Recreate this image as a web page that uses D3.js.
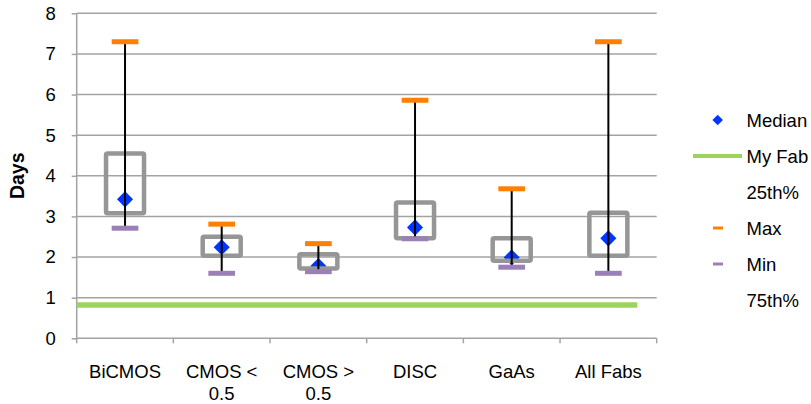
<!DOCTYPE html>
<html><head><meta charset="utf-8">
<script src="https://cdn.jsdelivr.net/npm/d3@7/dist/d3.min.js"></script>
<style>body{margin:0;background:#fff}svg{display:block}text{font-family:"Liberation Sans",Arial,sans-serif}</style>
</head><body><svg id="c" width="811" height="404"></svg>
<script>
const categories = [["BiCMOS"], ["CMOS <", "0.5"], ["CMOS >", "0.5"], ["DISC"], ["GaAs"], ["All Fabs"]];
const maxVals = [7.30, 2.81, 2.33, 5.86, 3.68, 7.30];
const p75 = [4.55, 2.50, 2.07, 3.34, 2.46, 3.09];
const medians = [3.42, 2.24, 1.78, 2.73, 1.99, 2.46];
const p25 = [3.08, 2.03, 1.72, 2.46, 1.91, 2.03];
const minVals = [2.71, 1.60, 1.64, 2.45, 1.75, 1.60];
const myFab = 0.82;
const yTicks = [0, 1, 2, 3, 4, 5, 6, 7, 8];
const legendItems = ["Median", "My Fab", "25th%", "Max", "Min", "75th%"];

const svg = d3.select("#c");
const L = 76.7, R = 656.7, T = 13.3, B = 338.3;
const keys = categories.map(c => c.join(" "));
const x = d3.scaleBand().domain(keys).range([L, R]);
const y = d3.scaleLinear().domain([0, 8]).range([B, T]);
const grid = "#a3a3a3";
const FS = 18.5;

// gridlines
svg.append("g").selectAll("line").data(yTicks.slice(1)).join("line")
  .attr("x1", L).attr("x2", R).attr("y1", d => y(d)).attr("y2", d => y(d))
  .attr("stroke", grid).attr("stroke-width", 1.5);

// y axis
const ya = svg.append("g").attr("transform", `translate(${L},0)`)
  .call(d3.axisLeft(y).tickValues(yTicks).tickSize(5).tickPadding(16));
ya.select(".domain").attr("stroke", grid).attr("stroke-width", 1.5).attr("d", `M0,${y(8)}V${B}`);
ya.selectAll(".tick line").attr("stroke", grid).attr("stroke-width", 1.5);
ya.selectAll(".tick text").attr("font-size", FS).attr("fill", "#000");

// x axis
const xa = svg.append("g").attr("transform", `translate(0,${B})`)
  .call(d3.axisBottom(x).tickSize(0).tickFormat(""));
xa.select(".domain").attr("stroke", grid).attr("stroke-width", 1.5).attr("d", `M${L},0H${R}`);
const bounds = keys.map(k => x(k)).concat([R]);
xa.selectAll("line.bt").data(bounds).join("line").attr("class", "bt")
  .attr("x1", d => d).attr("x2", d => d).attr("y1", 0).attr("y2", 5)
  .attr("stroke", grid).attr("stroke-width", 1.5);
const lab = svg.append("g").selectAll("text").data(categories).join("text")
  .attr("x", (d, i) => x(keys[i]) + x.bandwidth() / 2)
  .attr("y", 377.5).attr("text-anchor", "middle").attr("font-size", FS).attr("fill", "#000");
lab.selectAll("tspan").data(d => d).join("tspan")
  .attr("x", function () { return d3.select(this.parentNode).attr("x"); })
  .attr("dy", (d, i) => i === 0 ? 0 : 22).text(d => d);

// y title
svg.append("text").attr("transform", `translate(24,${(T + B) / 2}) rotate(-90)`)
  .attr("text-anchor", "middle").attr("font-size", 19.5).attr("font-weight", "bold").text("Days");

// My Fab line
svg.append("line").attr("x1", L).attr("x2", x(keys[keys.length - 1]) + x.bandwidth() * 0.8)
  .attr("y1", y(myFab)).attr("y2", y(myFab)).attr("stroke", "#9dd45c").attr("stroke-width", 5.5);

const cx = i => x(keys[i]) + x.bandwidth() / 2;
const idx = d3.range(categories.length);
const diamond = d3.symbol().type(d3.symbolDiamond2).size(165);

// medians
svg.append("g").selectAll("path").data(idx).join("path")
  .attr("d", diamond).attr("transform", i => `translate(${cx(i)},${y(medians[i])})`)
  .attr("fill", "#0036ff");

// boxes
const bw = 38;
svg.append("g").selectAll("rect").data(idx).join("rect")
  .attr("x", i => cx(i) - bw / 2).attr("width", bw)
  .attr("y", i => y(p75[i])).attr("height", i => y(p25[i]) - y(p75[i]))
  .attr("rx", 1.5).attr("fill", "none").attr("stroke", "#969696").attr("stroke-width", 4.5);

// whiskers
svg.append("g").selectAll("line").data(idx).join("line")
  .attr("x1", cx).attr("x2", cx).attr("y1", i => y(maxVals[i])).attr("y2", i => y(minVals[i]))
  .attr("stroke", "#000").attr("stroke-width", 2);

// max / min markers
const mw = 26.7, mh = 5;
svg.append("g").selectAll("rect").data(idx).join("rect")
  .attr("x", i => cx(i) - mw / 2).attr("width", mw).attr("y", i => y(maxVals[i]) - mh / 2).attr("height", mh)
  .attr("fill", "#ff8000");
svg.append("g").selectAll("rect").data(idx).join("rect")
  .attr("x", i => cx(i) - mw / 2).attr("width", mw).attr("y", i => y(minVals[i]) - mh / 2).attr("height", mh)
  .attr("fill", "#9b80b8");

// legend
const lg = svg.append("g");
const ly = i => 120 + i * 36;
legendItems.forEach((t, i) => {
  lg.append("text").attr("x", 746.5).attr("y", ly(i) + 6.6).attr("font-size", FS).attr("fill", "#000").text(t);
});
lg.append("path").attr("d", d3.symbol().type(d3.symbolDiamond2).size(70)()).attr("transform", `translate(717.7,${ly(0)})`).attr("fill", "#0036ff");
lg.append("line").attr("x1", 693).attr("x2", 742).attr("y1", ly(1)).attr("y2", ly(1))
  .attr("stroke", "#9dd45c").attr("stroke-width", 4);
lg.append("rect").attr("x", 713).attr("width", 10).attr("y", ly(3) - 1.5).attr("height", 3).attr("fill", "#ff8000");
lg.append("rect").attr("x", 713).attr("width", 10).attr("y", ly(4) - 1.5).attr("height", 3).attr("fill", "#9b80b8");
</script></body></html>
